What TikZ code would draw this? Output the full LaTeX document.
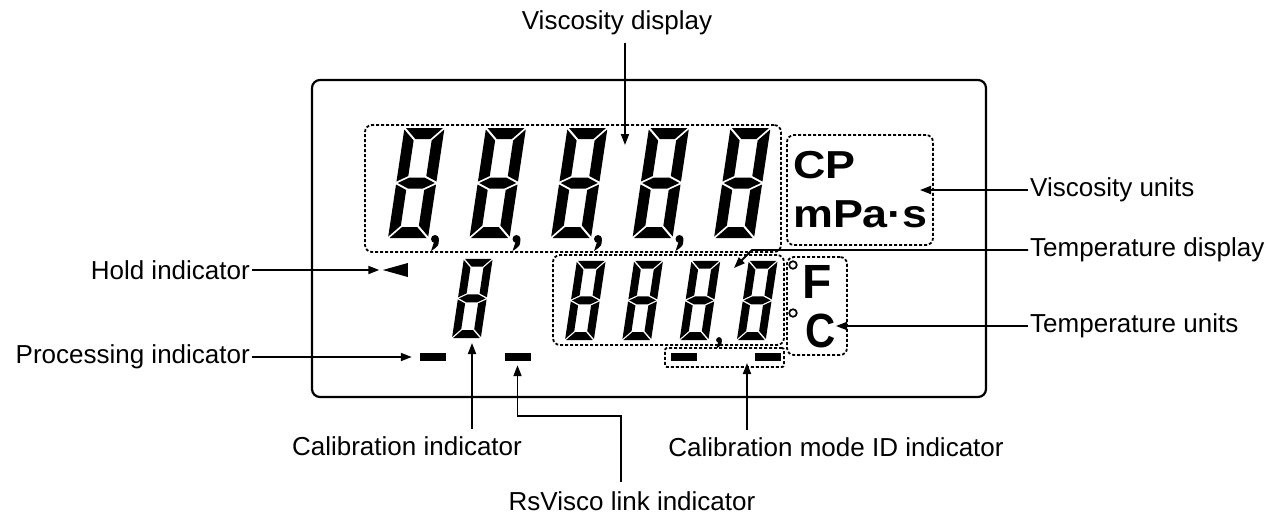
\documentclass[tikz,border=0pt]{standalone}
\usepackage{fontspec}
\setmainfont{Liberation Sans}
\usepackage{tikz}
\usetikzlibrary{arrows.meta, positioning, calc, shapes.geometric}

% seven segment digit: x, y (outer bottom left), scale
\newcommand{\lcddigit}[3]{%
  \begin{scope}[shift={(#1,#2)}, xslant=0.15, scale=#3]
    \fill (1.5,0) -- (38.5,0) -- (27.5,-11) -- (12.5,-11) -- cycle;
    \fill (1.5,-110) -- (38.5,-110) -- (27.5,-99) -- (12.5,-99) -- cycle;
    \fill (1.5,-55) -- (12.5,-60.5) -- (27.5,-60.5) -- (38.5,-55) -- (27.5,-49.5) -- (12.5,-49.5) -- cycle;
    \foreach \xx/\dd in {0/1,40/-1} {
      \fill (\xx,-1.5) -- (\xx+11*\dd,-12.5) -- (\xx+11*\dd,-48) -- (\xx,-53.5) -- cycle;
      \fill (\xx,-108.5) -- (\xx+11*\dd,-97.5) -- (\xx+11*\dd,-62) -- (\xx,-56.5) -- cycle;
    }
  \end{scope}}
% decimal comma: x, y (centre of the dot), scale
\newcommand{\lcdcomma}[3]{%
  \begin{scope}[shift={(#1,#2)}, scale=#3]
    \fill (0,0) circle (4pt);
    \fill (3.9,0.8) .. controls (3.5,7) .. (-4,12) -- (-1,3) -- cycle;
  \end{scope}}

\begin{document}
\begin{tikzpicture}[x=1pt, y=-1pt,
    lbl/.style={font=\fontsize{26}{30}\selectfont, inner sep=2pt},
    arrow/.style={-{Triangle[length=11pt,width=8pt]}, line width=1.8pt},
    dotbox/.style={draw, line width=1.8pt, dash pattern=on 3pt off 2pt, rounded corners=7pt, inner sep=0pt},
    bar/.style={fill, minimum width=26pt, minimum height=8pt, inner sep=0pt},
    unitfont/.style={font=\bfseries\fontsize{39}{39}\selectfont, inner sep=0pt, anchor=base west},
]
\useasboundingbox (0,0) rectangle (1287,515);

% LCD panel
\node[draw, line width=2.2pt, rounded corners=8pt, minimum width=674pt, minimum height=317pt] (lcd) at (649,238.5) {};

% dotted groups
\node[dotbox, minimum width=416pt, minimum height=127pt] (viscbox) at (573,188.5) {};
\node[dotbox, minimum width=146pt, minimum height=110pt] (unitbox) at (860,190) {};
\node[dotbox, minimum width=231pt, minimum height=90pt] (tempbox) at (668.5,300) {};
\node[dotbox, minimum width=60pt, minimum height=98pt] (tunitbox) at (817,306) {};
\node[dotbox, rounded corners=2pt, minimum width=119pt, minimum height=19pt] (calbox) at (724.5,357.5) {};

% viscosity digits
\foreach \i in {0,...,4} {\lcddigit{388+81.5*\i}{238}{1}}
\foreach \i in {0,...,3} {\lcdcomma{435+81.5*\i}{239}{1}}

% calibration digit and temperature digits
\lcddigit{452}{338}{0.72}
\foreach \i in {0,...,3} {\lcddigit{565+57.3*\i}{340}{0.72}}
\lcdcomma{719}{340}{0.72}

% units
\node[unitfont] (cp) at (793,178) {\scalebox{1.15}[1]{CP}};
\node[unitfont] (mpas) at (793,227) {\scalebox{1.15}[1]{mPa·s}};
\draw[line width=1.7pt] (793,265) circle (3.8pt);
\draw[line width=1.7pt] (793,313) circle (3.8pt);
\node[unitfont, font=\bfseries\fontsize{48}{48}\selectfont] (degF) at (802,298) {F};
\node[unitfont, font=\bfseries\fontsize{48}{48}\selectfont] (degC) at (805,347) {\scalebox{0.87}[1]{C}};

% indicator marks
\node[isosceles triangle, isosceles triangle stretches, shape border rotate=180, fill,
      minimum height=25pt, minimum width=14pt, inner sep=0pt] (holdtri) at (402.5,270) {};
\node[bar] (procbar) at (433,357) {};
\node[bar] (linkbar) at (517.5,357) {};
\node[bar] (calbarA) at (683.5,357) {};
\node[bar] (calbarB) at (768,357) {};

% labels
\node[lbl, anchor=base] (visdisp) at (617,29) {Viscosity display};
\node[lbl, anchor=west] (visunits) at (1028,190) {Viscosity units};
\node[lbl, anchor=west] (tempdisp) at (1028,250) {Temperature display};
\node[lbl, anchor=west] (tempunits) at (1028,326) {Temperature units};
\node[lbl, anchor=east] (hold) at (252,270) {Hold indicator};
\node[lbl, anchor=east] (proc) at (252,357) {Processing indicator};
\node[lbl, anchor=base] (calib) at (407,455) {Calibration indicator};
\node[lbl, anchor=base] (calmode) at (836,456) {Calibration mode ID indicator};
\node[lbl, anchor=base] (rsvisco) at (632,510) {RsVisco link indicator};

% arrow targets
\coordinate (vistip) at (625,145);
\coordinate (vutip) at (920,190);
\coordinate (tdbend) at (752,250);
\coordinate (tdtip) at (734,268);
\coordinate (tutip) at (836,326);
\coordinate (eightbot) at (472,343);
\coordinate (calmodetip) at (747,363);

% connectors
\draw[arrow, shorten <=6pt] (visdisp.south -| vistip) -- (vistip);
\draw[arrow] (visunits.west) -- (vutip);
\draw[arrow] (tempdisp.west) -- (tdbend) -- (tdtip);
\draw[arrow] (tempunits.west) -- (tutip);
\draw[arrow, shorten >=3pt] (hold.east) -- (holdtri.west);
\draw[arrow, shorten >=8pt] (proc.east) -- (procbar.west);
\draw[arrow, shorten <=5pt] (calib.north -| eightbot) -- (eightbot);
\draw[arrow, shorten <=5pt] (calmode.north -| calmodetip) -- (calmodetip);
\draw[arrow, shorten <=7pt, shorten >=4pt] ([xshift=-11pt]rsvisco.north) -- ++(0,-73) -| (linkbar.south);
\end{tikzpicture}
\end{document}
